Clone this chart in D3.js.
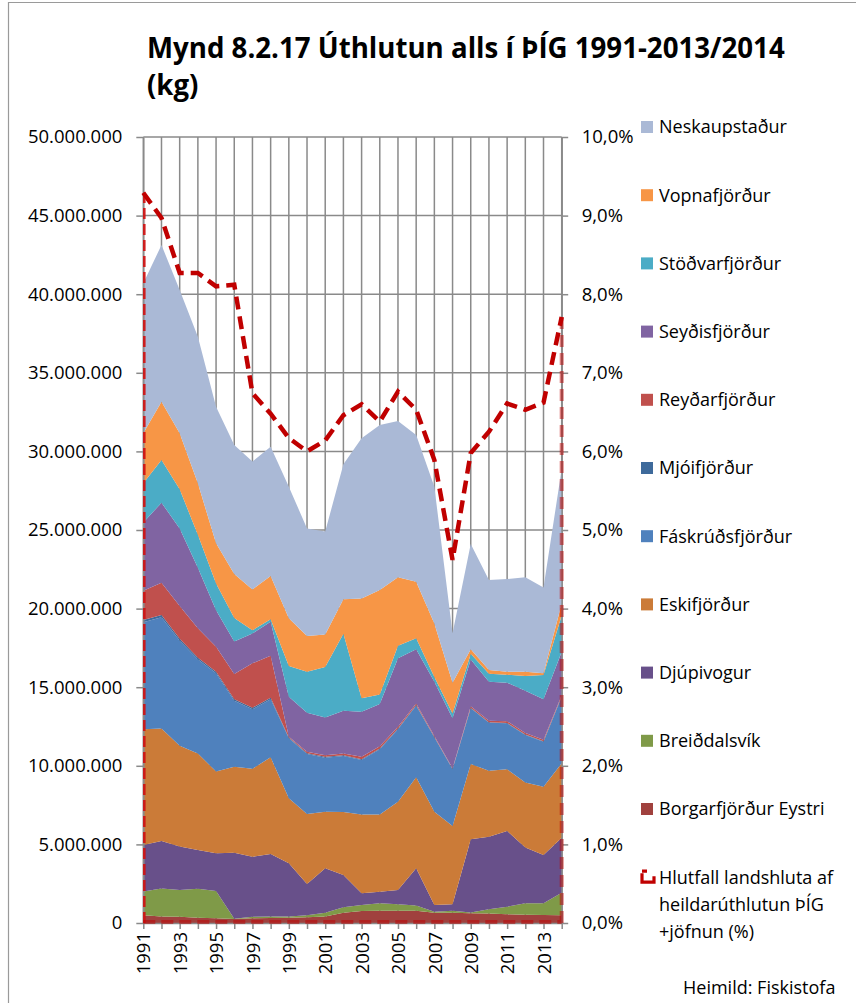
<!DOCTYPE html>
<html>
<head>
<meta charset="utf-8">
<script src="https://cdn.jsdelivr.net/npm/d3@7/dist/d3.min.js"></script>
<style>
  html, body { margin: 0; padding: 0; background: #fff; }
  svg { display: block; font-family: "Open Sans", "DejaVu Sans", sans-serif; }
</style>
</head>
<body>
<svg id="chart" width="856" height="1003"></svg>
<script>
// Úthlutun alls í ÞÍG, kg per year and site (stacked), with the region's share (%) on the right axis
const years = [1991, 1992, 1993, 1994, 1995, 1996, 1997, 1998, 1999, 2000, 2001, 2002,
               2003, 2004, 2005, 2006, 2007, 2008, 2009, 2010, 2011, 2012, 2013, 2014];
const yearLabels = ["1991", "1993", "1995", "1997", "1999", "2001", "2003", "2005", "2007", "2009", "2011", "2013"];

// values in millions of kg, listed bottom of the stack first
const borgarfjordur = [0.50, 0.42, 0.40, 0.33, 0.30, 0.25, 0.30, 0.32, 0.33, 0.36, 0.42, 0.66, 0.76, 0.78, 0.78, 0.78, 0.66, 0.66, 0.62, 0.60, 0.55, 0.53, 0.51, 0.49];
const breiddalsvik  = [1.50, 1.78, 1.70, 1.85, 1.73, 0.02, 0.10, 0.10, 0.09, 0.14, 0.24, 0.34, 0.39, 0.47, 0.41, 0.34, 0.06, 0.12, 0.05, 0.27, 0.49, 0.72, 0.74, 1.44];
const djupivogur    = [2.96, 3.02, 2.76, 2.46, 2.40, 4.20, 3.82, 3.97, 3.38, 1.98, 2.82, 2.05, 0.74, 0.74, 0.91, 2.36, 0.43, 0.41, 4.65, 4.62, 4.81, 3.56, 3.08, 3.50];
const eskifjordur   = [7.36, 7.16, 6.42, 6.15, 5.20, 5.47, 5.59, 6.15, 4.13, 4.45, 3.60, 4.01, 5.02, 4.92, 5.62, 5.79, 5.93, 4.98, 4.79, 4.20, 3.93, 4.12, 4.34, 4.73];
const faskrudsfj    = [6.81, 7.07, 6.68, 5.98, 6.25, 4.20, 3.78, 3.69, 3.82, 3.82, 3.44, 3.56, 3.46, 4.14, 4.60, 4.55, 4.73, 3.61, 3.55, 3.05, 2.92, 3.03, 2.86, 4.24];
const mjoifjordur   = [0.15, 0.15, 0.12, 0.10, 0.10, 0.10, 0.10, 0.10, 0.05, 0.05, 0.05, 0.05, 0.05, 0.05, 0.05, 0.05, 0.03, 0.03, 0.03, 0.03, 0.03, 0.03, 0.03, 0.03];
const reydarfjordur = [1.86, 2.05, 2.09, 1.88, 1.60, 1.60, 2.83, 2.67, 0.05, 0.10, 0.10, 0.12, 0.15, 0.15, 0.12, 0.10, 0.05, 0.03, 0.10, 0.10, 0.10, 0.10, 0.10, 0.05];
const seydisfjordur = [4.33, 5.09, 4.93, 3.85, 2.32, 2.06, 1.90, 2.17, 2.55, 2.48, 2.41, 2.71, 2.87, 2.68, 4.35, 3.44, 3.46, 3.18, 2.98, 2.48, 2.46, 2.69, 2.57, 2.78];
const stodvarfj     = [2.50, 2.71, 2.49, 2.10, 1.70, 1.50, 0.20, 0.15, 1.95, 2.60, 3.20, 4.90, 0.85, 0.60, 0.80, 0.70, 0.30, 0.30, 0.35, 0.50, 0.50, 0.93, 1.55, 2.30];
const vopnafjordur  = [3.18, 3.71, 3.56, 3.27, 2.55, 2.80, 2.60, 2.75, 3.03, 2.28, 2.08, 2.20, 6.36, 6.65, 4.35, 3.60, 3.41, 1.97, 0.29, 0.24, 0.20, 0.28, 0.10, 0.76];
const neskaupstadur = [9.54, 9.97, 9.12, 9.33, 8.69, 8.21, 8.13, 8.23, 8.37, 6.84, 6.54, 8.58, 10.18, 10.50, 9.94, 9.33, 8.69, 3.14, 6.70, 5.73, 5.89, 6.00, 5.47, 8.56];

// share of the national allocation incl. equalisation, %
const hlutfall = [9.29, 8.97, 8.27, 8.27, 8.10, 8.12, 6.74, 6.48, 6.17, 6.00, 6.14, 6.46, 6.60, 6.38, 6.76, 6.53, 5.89, 4.62, 5.98, 6.25, 6.61, 6.53, 6.62, 7.71];

const seriesNames = ["Borgarfjörður Eystri", "Breiðdalsvík", "Djúpivogur", "Eskifjörður", "Fáskrúðsfjörður",
                     "Mjóifjörður", "Reyðarfjörður", "Seyðisfjörður", "Stöðvarfjörður", "Vopnafjörður", "Neskaupstaður"];
const seriesValues = [borgarfjordur, breiddalsvik, djupivogur, eskifjordur, faskrudsfj,
                      mjoifjordur, reydarfjordur, seydisfjordur, stodvarfj, vopnafjordur, neskaupstadur];
const seriesColors = ["#A0413E", "#7F9A48", "#68508A", "#CB7B38", "#4F81BD",
                      "#3E6A9B", "#C0504D", "#8064A2", "#4BACC6", "#F79646", "#AAB9D6"];

const leftTicks = [0, 5e6, 10e6, 15e6, 20e6, 25e6, 30e6, 35e6, 40e6, 45e6, 50e6];
const rightTicks = [0, 1, 2, 3, 4, 5, 6, 7, 8, 9, 10];
const lineLabel = ["Hlutfall landshluta af", "heildarúthlutun ÞÍG", "+jöfnun (%)"];

const svg = d3.select("#chart");
const plot = { left: 143.3, right: 561.7, top: 137, bottom: 923 };
const grid = "#8A8A8A";

const locale = d3.formatLocale({ decimal: ",", thousands: ".", grouping: [3], currency: ["", ""] });
const fmtKg = locale.format(",");
const fmtPct = v => locale.format(".1f")(v) + "%";

const x = d3.scalePoint().domain(years).range([plot.left, plot.right]);
const y = d3.scaleLinear().domain([0, 50e6]).range([plot.bottom, plot.top]);
const y2 = d3.scaleLinear().domain([0, 10]).range([plot.bottom, plot.top]);

// outer frame
svg.append("path")
  .attr("d", "M8.5,1003 V2.5 H856")
  .attr("fill", "none").attr("stroke", "#9A9A9A").attr("stroke-width", 1.2);

// title
const title = svg.append("text")
  .attr("x", 147).attr("font-weight", 700).attr("fill", "#000");
title.append("tspan").attr("x", 147).attr("y", 58).text("Mynd 8.2.17 Úthlutun alls í ÞÍG 1991-2013/2014");
title.append("tspan").attr("x", 147).attr("y", 95).text("(kg)");
title.attr("font-size", 26);
const tlen = title.select("tspan").node().getComputedTextLength();
title.attr("font-size", 26 * 638 / tlen);

// gridlines
const g = svg.append("g");
g.selectAll("line.h").data(leftTicks).join("line")
  .attr("x1", plot.left).attr("x2", plot.right)
  .attr("y1", d => y(d)).attr("y2", d => y(d))
  .attr("stroke", grid).attr("stroke-width", 1.5);
g.selectAll("line.v").data(years).join("line")
  .attr("x1", d => x(d)).attr("x2", d => x(d))
  .attr("y1", plot.top).attr("y2", plot.bottom)
  .attr("stroke", grid).attr("stroke-width", 1.5);

// stacked areas
const rows = years.map((yr, i) => {
  const r = { year: yr };
  seriesNames.forEach((n, k) => { r[n] = seriesValues[k][i] * 1e6; });
  return r;
});
const stack = d3.stack().keys(seriesNames)(rows);
const area = d3.area()
  .x(d => x(d.data.year))
  .y0(d => y(d[0]))
  .y1(d => y(d[1]));
svg.append("g").selectAll("path").data(stack).join("path")
  .attr("d", area)
  .attr("fill", (d, i) => seriesColors[i]);

// axes
const axL = svg.append("g").attr("transform", `translate(${plot.left},0)`)
  .call(d3.axisLeft(y).tickValues(leftTicks).tickFormat(fmtKg).tickSize(7).tickSizeOuter(0).tickPadding(14));
const axR = svg.append("g").attr("transform", `translate(${plot.right},0)`)
  .call(d3.axisRight(y2).tickValues(rightTicks).tickFormat(fmtPct).tickSize(6.5).tickSizeOuter(0).tickPadding(13.5));
const axB = svg.append("g").attr("transform", `translate(0,${plot.bottom})`)
  .call(d3.axisBottom(x).tickValues(years).tickSize(6).tickSizeOuter(0)
        .tickFormat(d => yearLabels.includes(String(d)) ? String(d) : ""));
[axL, axR, axB].forEach(a => {
  a.select(".domain").attr("stroke", grid).attr("stroke-width", 1.5);
  a.selectAll(".tick line").attr("stroke", grid).attr("stroke-width", 1.5);
  a.selectAll("text").attr("font-size", 18.5).attr("fill", "#000")
    .attr("font-family", "'Open Sans', sans-serif");
});
axB.selectAll(".tick text")
  .attr("transform", "rotate(-90)")
  .attr("text-anchor", "end")
  .attr("x", -9).attr("y", 0).attr("dy", "0.36em");

// share line, drawn as an unfilled area on the secondary axis
const lineTop = d3.line().x((d, i) => x(years[i])).y(d => y2(d));
svg.append("path")
  .attr("d", `M${plot.left + 1},${y2(0)} V${y2(hlutfall[0])}`)
  .attr("fill", "none").attr("stroke", "#D01010").attr("stroke-width", 2.6)
  .attr("stroke-dasharray", "11,5").attr("opacity", 0.9);
svg.append("path")
  .attr("d", `M${plot.left},${y2(0) - 1} H${plot.right} M${plot.right},${y2(0)} V${y2(hlutfall[hlutfall.length - 1])}`)
  .attr("fill", "none").attr("stroke", "#C00000").attr("stroke-width", 4)
  .attr("stroke-dasharray", "12,6").attr("opacity", 0.5);
svg.append("path")
  .attr("d", lineTop(hlutfall))
  .attr("fill", "none").attr("stroke", "#C00000").attr("stroke-width", 4.5)
  .attr("stroke-dasharray", "13,7");

// legend, top to bottom
const legendOrder = seriesNames.map((n, i) => ({ name: n, color: seriesColors[i] })).reverse();
const lg = svg.append("g").attr("font-size", 18).attr("fill", "#000");
legendOrder.forEach((d, i) => {
  const cy = 127 + i * 68.2;
  lg.append("rect").attr("x", 641).attr("y", cy - 6).attr("width", 12).attr("height", 12).attr("fill", d.color);
  lg.append("text").attr("x", 659).attr("y", cy).attr("dy", "0.35em").text(d.name);
});
const ly = 127 + 11 * 68.2;
lg.append("path")
  .attr("d", `M642,${ly - 4} V${ly + 5} H654 V${ly - 1} M642,${ly - 6} H647`)
  .attr("fill", "none").attr("stroke", "#C00000").attr("stroke-width", 3.2);
lineLabel.forEach((t, i) => {
  lg.append("text").attr("x", 659).attr("y", ly + i * 27.2).attr("dy", "0.35em").text(t);
});

// source
svg.append("text").attr("x", 683).attr("y", 988).attr("dy", "0.35em")
  .attr("font-size", 18).attr("fill", "#000").text("Heimild: Fiskistofa");
</script>
</body>
</html>
